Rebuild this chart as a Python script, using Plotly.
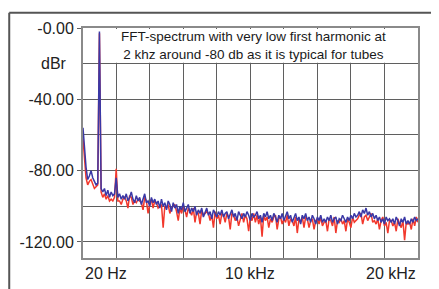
import plotly.graph_objects as go

# FFT bin frequencies (Hz): 20 Hz, then every 100 Hz up to 20 kHz
freq_hz = [20] + list(range(100, 20001, 100))

# Blue channel (dBr)
blue_low = [-56, -68, -78, -85, -83, -80, -84, -86, -88, -87, -2, -90, -92, -90, -94, -91,
            -95, -92, -94, -93, -84, -95, -93, -96]
blue_floor = [
    -94, -96, -93, -97, -95, -92, -96, -98, -94, -97,
    -95, -99, -96, -93, -98, -97, -100, -95, -98, -96,
    -99, -97, -101, -96, -100, -98, -102, -97, -99, -103,
    -98, -101, -99, -104, -100, -102, -98, -103, -101, -99,
    -104, -101, -103, -100, -105, -102, -104, -101, -106, -103,
    -101, -105, -103, -107, -102, -104, -106, -103, -105, -102,
    -106, -104, -103, -107, -105, -102, -106, -104, -108, -103,
    -105, -107, -104, -106, -103, -105, -108, -104, -106, -105,
    -103, -107, -105, -109, -104, -106, -103, -107, -105, -108,
    -104, -106, -109, -105, -107, -104, -108, -106, -103, -107,
    -105, -109, -106, -104, -108, -106, -110, -105, -107, -104,
    -108, -106, -109, -105, -107, -110, -106, -108, -105, -109,
    -107, -109, -106, -108, -105, -109, -107, -106, -110, -107,
    -108, -105, -107, -109, -106, -108, -105, -107, -104, -106,
    -105, -103, -106, -102, -104, -101, -105, -103, -106, -104,
    -107, -105, -108, -106, -109, -107, -110, -106, -108, -107,
    -109, -107, -110, -106, -108, -111, -107, -109, -106, -110,
    -108, -110, -107, -109, -106, -108, -107,
]
blue_db = blue_low + blue_floor

# Red channel (dBr)
red_low = [-62, -72, -84, -88, -86, -85, -88, -90, -89, -88, -3, -92, -95, -93, -96, -94,
           -97, -96, -97, -95, -79, -97, -97, -99]
red_floor = [
    -96, -95, -97, -101, -94, -95, -99, -97, -98, -96,
    -97, -98, -102, -95, -97, -104, -99, -96, -101, -97,
    -98, -101, -100, -99, -112, -100, -101, -99, -104, -101,
    -100, -99, -103, -108, -101, -104, -100, -102, -106, -101,
    -103, -105, -101, -109, -103, -104, -110, -102, -105, -104,
    -103, -104, -108, -105, -112, -103, -107, -105, -110, -104,
    -105, -109, -104, -106, -113, -104, -105, -108, -106, -111,
    -107, -104, -109, -105, -107, -114, -106, -108, -104, -109,
    -105, -110, -106, -117, -105, -108, -106, -112, -107, -109,
    -106, -105, -113, -107, -106, -110, -107, -109, -105, -111,
    -107, -108, -111, -106, -115, -107, -109, -106, -112, -106,
    -107, -112, -108, -107, -113, -108, -107, -110, -106, -111,
    -109, -108, -114, -107, -108, -111, -106, -115, -108, -109,
    -107, -110, -108, -114, -107, -109, -112, -106, -109, -108,
    -107, -105, -104, -110, -106, -105, -108, -106, -104, -109,
    -108, -110, -107, -113, -108, -106, -111, -109, -115, -108,
    -108, -111, -109, -114, -107, -110, -112, -108, -119, -109,
    -110, -109, -113, -107, -111, -106, -109,
]
red_db = red_low + red_floor

y_tickvals = [0, -40, -80, -120]
y_ticktext = ["-0.00", "-40.00", "-80.00", "-120.00"]
x_labels = [(20, "20 Hz", "left"), (10000, "10 kHz", "center"), (20000, "20 kHz", "right")]
note_text = "FFT-spectrum with very low first harmonic at<br>2 khz around -80 db as it is typical for tubes"

FONT = "Liberation Sans, Arial, sans-serif"
GRID = "#5f5f5f"
BORDER = "#8a8a8a"

fig = go.Figure()
fig.add_trace(go.Scatter(x=freq_hz, y=red_db, mode="lines",
                         line=dict(color="#f2382c", width=1.5), hoverinfo="skip"))
fig.add_trace(go.Scatter(x=freq_hz, y=blue_db, mode="lines",
                         line=dict(color="#3a38a6", width=1.5), hoverinfo="skip"))

fig.update_layout(
    width=439, height=289,
    margin=dict(l=74, r=29, t=16, b=39),
    paper_bgcolor="white", plot_bgcolor="white",
    showlegend=False,
    font=dict(family=FONT, size=16, color="#222"),
    xaxis=dict(range=[20, 20000], tick0=0, dtick=2000, showticklabels=False,
               showgrid=True, gridcolor=GRID, gridwidth=1, zeroline=False,
               showline=True, linecolor=BORDER, linewidth=2, mirror=True, ticks=""),
    yaxis=dict(range=[-129, 0], tickvals=y_tickvals, ticktext=y_ticktext,
               showgrid=True, gridcolor=GRID, gridwidth=1, zeroline=False,
               showline=True, linecolor=BORDER, linewidth=2, mirror=True,
               ticks="outside", ticklen=4, tickcolor=GRID,
               tickfont=dict(family=FONT, size=16, color="#222"),
               minor=dict(tickvals=[-20, -60, -100], showgrid=True,
                          gridcolor=GRID, gridwidth=1, ticks="")),
)

# white note box covering the grid at the top
fig.add_shape(type="rect", xref="x", yref="y", x0=1880, x1=19930, y0=-19.5, y1=-0.5,
              fillcolor="white", line=dict(width=0), layer="above")
fig.add_annotation(x=0.51, y=-10, xref="paper", yref="y", text=note_text,
                   showarrow=False, font=dict(family=FONT, size=13.5, color="#1a1a1a"),
                   xanchor="center", yanchor="middle", align="center")

# dBr unit label
fig.add_annotation(x=-0.086, y=-20, xref="paper", yref="y", text="dBr", showarrow=False,
                   font=dict(family=FONT, size=16, color="#222"), xanchor="center", yanchor="middle")

# x labels
for xv, txt, anc in x_labels:
    fig.add_annotation(x=xv, y=-0.068, xref="x", yref="paper", text=txt, showarrow=False,
                       font=dict(family=FONT, size=16, color="#222"), xanchor=anc, yanchor="middle")

# outer frame lines
fig.add_shape(type="line", xref="paper", yref="paper", x0=-0.2202, x1=-0.2202, y0=-0.2, y1=1.066,
              line=dict(color="#555", width=2))
fig.add_shape(type="line", xref="paper", yref="paper", x0=-0.2202, x1=1.0536, y0=1.066, y1=1.066,
              line=dict(color="#555", width=2))

fig.write_html("out.html")
